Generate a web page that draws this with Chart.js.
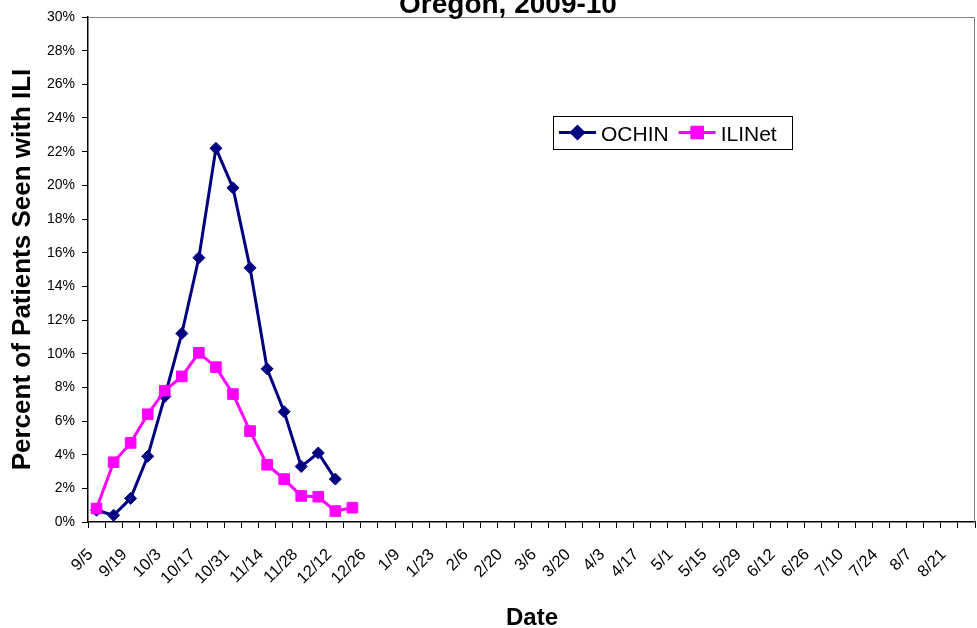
<!DOCTYPE html>
<html>
<head>
<meta charset="utf-8">
<script src="https://cdn.jsdelivr.net/npm/chart.js@4"></script>
<style>
  html, body { margin: 0; padding: 0; background: #fff; }
  #wrap { width: 977px; height: 628px; }
</style>
</head>
<body>
<div id="wrap"><canvas id="iliChart" width="977" height="628"></canvas></div>
<script>
// weekly dates, season 2009-10
const weeks = ['9/5','9/12','9/19','9/26','10/3','10/10','10/17','10/24','10/31','11/7','11/14','11/21',
    '11/28','12/5','12/12','12/19','12/26','1/2','1/9','1/16','1/23','1/30','2/6','2/13','2/20','2/27',
    '3/6','3/13','3/20','3/27','4/3','4/10','4/17','4/24','5/1','5/8','5/15','5/22','5/29','6/5','6/12',
    '6/19','6/26','7/3','7/10','7/17','7/24','7/31','8/7','8/14','8/21','8/28'];

// percent of patients seen with ILI
const ochin = [0.7, 0.4, 1.4, 3.9, 7.45, 11.2, 15.7, 22.2, 19.85, 15.1, 9.1, 6.55, 3.3, 4.1, 2.55];
const ilinet = [0.8, 3.55, 4.7, 6.4, 7.8, 8.65, 10.05, 9.2, 7.6, 5.4, 3.4, 2.55, 1.55, 1.5, 0.65, 0.85];

const yTicks = { min: 0, max: 30, step: 2 };

const NAVY = '#000080';
const MAGENTA = '#FF00FF';

function pad(arr) {
    const out = arr.slice();
    while (out.length < weeks.length) out.push(null);
    return out;
}

function drawText(ctx, text, x, y, font, align, rotate) {
    ctx.save();
    ctx.translate(x, y);
    if (rotate) ctx.rotate(rotate);
    ctx.font = font;
    ctx.fillStyle = '#000';
    ctx.textAlign = align || 'center';
    ctx.textBaseline = 'alphabetic';
    ctx.fillText(text, 0, 0);
    ctx.restore();
}

// titles, plot frame and the boxed legend
const extras = {
    id: 'extras',
    afterDraw(chart) {
        const ctx = chart.ctx;
        const area = chart.chartArea;

        // grey frame on top and right of the plot
        ctx.save();
        ctx.strokeStyle = '#808080';
        ctx.lineWidth = 1;
        ctx.beginPath();
        ctx.moveTo(area.left, area.top + 0.5);
        ctx.lineTo(area.right - 0.5, area.top + 0.5);
        ctx.lineTo(area.right - 0.5, area.bottom);
        ctx.stroke();
        ctx.restore();

        drawText(ctx, 'Oregon, 2009-10', 508, 13, 'bold 28px Arial, "Liberation Sans"');
        drawText(ctx, 'Date', 532, 625, 'bold 24px Arial, "Liberation Sans"');
        drawText(ctx, 'Percent of Patients Seen with ILI', 30, (area.top + area.bottom) / 2,
            'bold 26px Arial, "Liberation Sans"', 'center', -Math.PI / 2);

        // legend
        const bx = 553, by = 116, bw = 239, bh = 33;
        ctx.save();
        ctx.fillStyle = '#fff';
        ctx.fillRect(bx, by, bw, bh);
        ctx.strokeStyle = '#000';
        ctx.lineWidth = 1;
        ctx.strokeRect(bx + 0.5, by + 0.5, bw, bh);
        ctx.restore();

        const cy = by + bh / 2;
        let x = 559;
        chart.data.datasets.forEach(ds => {
            ctx.save();
            ctx.strokeStyle = ds.borderColor;
            ctx.lineWidth = 3;
            ctx.beginPath();
            ctx.moveTo(x, cy);
            ctx.lineTo(x + 37, cy);
            ctx.stroke();
            ctx.fillStyle = ds.backgroundColor;
            Chart.helpers.drawPoint(ctx, {
                pointStyle: ds.pointStyle, radius: ds.pointRadius, borderWidth: 1
            }, x + 18.5, cy);
            ctx.restore();
            drawText(ctx, ds.label, x + 42, cy + 8, '21px Arial, "Liberation Sans"', 'left');
            ctx.font = '21px Arial, "Liberation Sans"';
            x += 42 + ctx.measureText(ds.label).width + 10;
        });
    }
};

new Chart(document.getElementById('iliChart'), {
    type: 'line',
    data: {
        labels: weeks,
        datasets: [{
            label: 'OCHIN',
            data: pad(ochin),
            borderColor: NAVY,
            backgroundColor: NAVY,
            borderWidth: 3,
            pointStyle: 'rectRot',
            pointRadius: 6,
            pointBorderWidth: 1,
            pointBorderColor: NAVY,
            tension: 0,
            order: 1
        }, {
            label: 'ILINet',
            data: pad(ilinet),
            borderColor: MAGENTA,
            backgroundColor: MAGENTA,
            borderWidth: 3,
            pointStyle: 'rect',
            pointRadius: 7.5,
            pointBorderWidth: 1,
            pointBorderColor: MAGENTA,
            tension: 0,
            order: 0
        }]
    },
    options: {
        responsive: false,
        animation: false,
        layout: { autoPadding: false, padding: { top: 17, right: 2, left: 0, bottom: 0 } },
        plugins: {
            legend: { display: false },
            title: { display: false },
            tooltip: { enabled: false }
        },
        scales: {
            x: {
                offset: true,
                afterFit(scale) {
                    scale.height = 106;
                    scale.paddingLeft = 0;
                    scale.paddingRight = 0;
                },
                grid: {
                    offset: true,
                    drawOnChartArea: false,
                    drawTicks: true,
                    tickLength: 6,
                    color: '#000'
                },
                border: { color: '#000', width: 1.5 },
                ticks: {
                    autoSkip: false,
                    minRotation: 45,
                    maxRotation: 45,
                    color: '#000',
                    padding: 17,
                    labelOffset: -6,
                    font: { family: 'Arial, "Liberation Sans"', size: 16.5 },
                    callback(value, index) {
                        return index % 2 === 0 ? weeks[index] : '';
                    }
                }
            },
            y: {
                min: yTicks.min,
                max: yTicks.max,
                afterFit(scale) { scale.width = 88; },
                grid: {
                    drawOnChartArea: false,
                    drawTicks: true,
                    tickLength: 6,
                    color: '#000'
                },
                border: { color: '#000', width: 1.5 },
                ticks: {
                    stepSize: yTicks.step,
                    color: '#000',
                    padding: 7,
                    font: { family: 'Arial, "Liberation Sans"', size: 14 },
                    callback(value) { return value + '%'; }
                }
            }
        }
    },
    plugins: [extras]
});
</script>
</body>
</html>
